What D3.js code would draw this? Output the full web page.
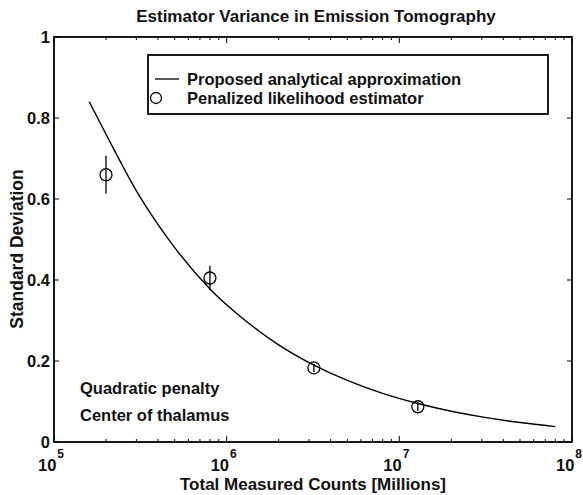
<!DOCTYPE html>
<html>
<head>
<meta charset="utf-8">
<script src="https://cdn.jsdelivr.net/npm/d3@7"></script>
<style>
  body { margin: 0; background: #fff; }
  text { font-family: "Liberation Sans", Arial, sans-serif; font-weight: bold; fill: #111; }
</style>
</head>
<body>
<svg id="chart" width="583" height="495"></svg>
<script>
// curve: proposed analytical approximation
var curveCounts = [1.6e5, 2e5, 3e5, 5e5, 8e5, 1.2e6, 2e6, 3.2e6, 5e6, 8e6, 1.28e7, 2e7, 3e7, 5e7, 8e7];
var curveSD     = [0.84, 0.76, 0.62, 0.48, 0.378, 0.31, 0.24, 0.19, 0.152, 0.12, 0.095, 0.076, 0.062, 0.048, 0.038];

// penalized likelihood estimator points + error bars
var estCounts = [2e5, 8e5, 3.2e6, 1.28e7];
var estSD     = [0.66, 0.405, 0.183, 0.087];
var estErr    = [0.047, 0.03, 0.01, 0.011];

var yTicks = [0, 0.2, 0.4, 0.6, 0.8, 1];
var xMajor = [1e5, 1e6, 1e7, 1e8];

var legendLabels = ["Proposed analytical approximation", "Penalized likelihood estimator"];
var notes = ["Quadratic penalty", "Center of thalamus"];

var svg = d3.select("#chart");
var pLeft = 54, pRight = 572, pTop = 37, pBottom = 442;

var x = d3.scaleLog().domain([1e5, 1e8]).range([pLeft, pRight]);
var y = d3.scaleLinear().domain([0, 1]).range([pBottom, pTop]);

// title
svg.append("text").attr("x", 316).attr("y", 22).attr("text-anchor", "middle")
  .style("font-size", "17px").text("Estimator Variance in Emission Tomography");

// frame
svg.append("rect").attr("x", pLeft).attr("y", pTop)
  .attr("width", pRight - pLeft).attr("height", pBottom - pTop)
  .attr("fill", "none").attr("stroke", "#000").attr("stroke-width", 1.8);

// minor x ticks (log)
var minor = x.ticks().filter(d => xMajor.indexOf(d) < 0);
var g = svg.append("g").attr("stroke", "#000").attr("stroke-width", 1);
g.selectAll("line.mb").data(minor).enter().append("line")
  .attr("x1", d => x(d)).attr("x2", d => x(d)).attr("y1", pBottom).attr("y2", pBottom - 3);
g.selectAll("line.mt").data(minor).enter().append("line")
  .attr("x1", d => x(d)).attr("x2", d => x(d)).attr("y1", pTop).attr("y2", pTop + 3);
g.selectAll("line.Mb").data(xMajor).enter().append("line")
  .attr("x1", d => x(d)).attr("x2", d => x(d)).attr("y1", pBottom).attr("y2", pBottom - 6);
g.selectAll("line.Mt").data(xMajor).enter().append("line")
  .attr("x1", d => x(d)).attr("x2", d => x(d)).attr("y1", pTop).attr("y2", pTop + 6);
g.selectAll("line.yl").data(yTicks).enter().append("line")
  .attr("x1", pLeft).attr("x2", pLeft + 5).attr("y1", d => y(d)).attr("y2", d => y(d));
g.selectAll("line.yr").data(yTicks).enter().append("line")
  .attr("x1", pRight).attr("x2", pRight - 5).attr("y1", d => y(d)).attr("y2", d => y(d));

// y tick labels
svg.selectAll("text.yt").data(yTicks).enter().append("text")
  .attr("x", pLeft - 4).attr("y", d => y(d) + 6).attr("text-anchor", "end")
  .style("font-size", "16.5px").text(d => d === 0 || d === 1 ? d : d.toFixed(1));

// x tick labels 10^n
var xl = svg.selectAll("text.xt").data(xMajor).enter().append("text")
  .attr("x", d => x(d) - 3).attr("y", 471).attr("text-anchor", "middle")
  .style("font-size", "16.5px");
xl.append("tspan").text("10");
xl.append("tspan").attr("dy", -13).attr("dx", 1).style("font-size", "12px")
  .text(d => Math.round(Math.log10(d)));

// axis labels
svg.append("text").attr("x", 313).attr("y", 490).attr("text-anchor", "middle")
  .style("font-size", "17px").text("Total Measured Counts [Millions]");
svg.append("text").attr("transform", "translate(23,249) rotate(-90)")
  .attr("text-anchor", "middle").style("font-size", "17.5px").text("Standard Deviation");

// curve
var curveData = curveCounts.map((c, i) => ({ c: c, v: curveSD[i] }));
svg.append("path").datum(curveData)
  .attr("fill", "none").attr("stroke", "#000").attr("stroke-width", 1.4)
  .attr("d", d3.line().x(d => x(d.c)).y(d => y(d.v)).curve(d3.curveMonotoneX));

// estimator points
var pts = estCounts.map((c, i) => ({ c: c, v: estSD[i], e: estErr[i] }));
svg.selectAll("line.err").data(pts).enter().append("line")
  .attr("x1", d => x(d.c)).attr("x2", d => x(d.c))
  .attr("y1", d => y(d.v + d.e)).attr("y2", d => y(d.v - d.e))
  .attr("stroke", "#000").attr("stroke-width", 1.3);
svg.selectAll("circle.pt").data(pts).enter().append("circle")
  .attr("cx", d => x(d.c)).attr("cy", d => y(d.v)).attr("r", 6)
  .attr("fill", "none").attr("stroke", "#000").attr("stroke-width", 1.3);

// legend
svg.append("rect").attr("x", 148).attr("y", 55).attr("width", 400).attr("height", 59)
  .attr("fill", "#fff").attr("stroke", "#000").attr("stroke-width", 1.8);
svg.append("line").attr("x1", 155).attr("x2", 179).attr("y1", 79).attr("y2", 79)
  .attr("stroke", "#000").attr("stroke-width", 1.3);
svg.append("circle").attr("cx", 156).attr("cy", 98).attr("r", 5.5)
  .attr("fill", "none").attr("stroke", "#000").attr("stroke-width", 1.3);
svg.selectAll("text.lg").data(legendLabels).enter().append("text")
  .attr("x", 187).attr("y", (d, i) => 84.5 + i * 19)
  .style("font-size", "16.5px").text(d => d);

// notes
svg.selectAll("text.nt").data(notes).enter().append("text")
  .attr("x", 80).attr("y", (d, i) => 394 + i * 27)
  .style("font-size", "16.5px").text(d => d);
</script>
</body>
</html>
